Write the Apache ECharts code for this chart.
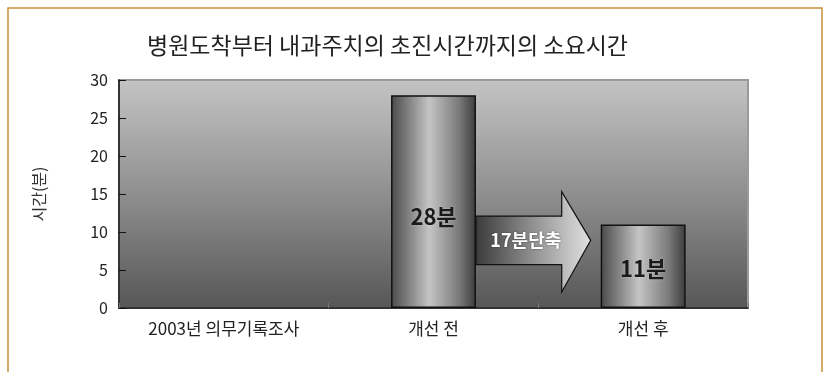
<!DOCTYPE html>
<html>
<head>
<meta charset="utf-8">
<script src="https://cdn.jsdelivr.net/npm/echarts@6/dist/echarts.min.js"></script>
<style>
  html, body { margin: 0; padding: 0; background: #ffffff; }
  #chart { width: 831px; height: 372px; }
</style>
</head>
<body>
<div id="chart"></div>
<script>
// Categories along the x axis and minutes for each stage
const categories = ['2003년 의무기록조사', '개선 전', '개선 후'];
const minutes = [null, 28, 11];
const yTicks = { min: 0, max: 30, interval: 5 };
const titleText = '병원도착부터 내과주치의 초진시간까지의 소요시간';
const yAxisName = '시간(분)';

// Reduction arrow between the two stages: [from, to, bodyLow, bodyHigh, headLow, headHigh]
const arrowSpan = [[1, 2, 5.7, 12.1, 2.1, 15.3]];
const reduction = minutes[1] - minutes[2];

const KR = '"Noto Sans CJK KR", "Noto Sans", sans-serif';
const chart = echarts.init(document.getElementById('chart'));

const barFill = new echarts.graphic.LinearGradient(0, 0, 1, 0, [
  { offset: 0, color: '#4a4a4a' },
  { offset: 0.12, color: '#6a6a6a' },
  { offset: 0.45, color: '#c4c4c4' },
  { offset: 0.8, color: '#7a7a7a' },
  { offset: 1, color: '#3c3c3c' }
]);

chart.setOption({
  animation: false,
  backgroundColor: '#ffffff',
  title: {
    text: titleText,
    left: 142,
    top: 29,
    textStyle: { fontFamily: KR, fontSize: 23, fontWeight: 'normal', color: '#222' }
  },
  graphic: [{
    type: 'rect',
    shape: { x: 8, y: 8, width: 814, height: 380 },
    style: { fill: 'none', stroke: '#c8903c', lineWidth: 1.5 },
    silent: true
  }],
  grid: {
    left: 119, right: 83, top: 80, bottom: 64,
    show: true,
    borderColor: '#9a9a9a',
    borderWidth: 2,
    backgroundColor: new echarts.graphic.LinearGradient(0, 0, 0, 1, [
      { offset: 0, color: '#c4c4c4' },
      { offset: 0.5, color: '#8f8f8f' },
      { offset: 1, color: '#565656' }
    ])
  },
  xAxis: {
    type: 'category',
    data: categories,
    axisLine: { show: true, lineStyle: { color: '#111', width: 1.5 } },
    axisTick: { show: true, inside: true, length: 5, lineStyle: { color: '#777' } },
    axisLabel: { fontFamily: KR, fontSize: 17, color: '#222', margin: 12 }
  },
  yAxis: {
    type: 'value',
    min: yTicks.min, max: yTicks.max, interval: yTicks.interval,
    name: yAxisName,
    nameLocation: 'middle',
    nameRotate: 90,
    nameGap: 72,
    nameTextStyle: { fontFamily: KR, fontSize: 16, color: '#333' },
    axisLine: { show: true, lineStyle: { color: '#111', width: 1.5 } },
    axisTick: { show: true, inside: true, length: 7, lineStyle: { color: '#111' } },
    axisLabel: { fontFamily: KR, fontSize: 16, color: '#222', margin: 11 },
    splitLine: { show: false }
  },
  series: [
    {
      type: 'bar',
      barWidth: '40.5%',
      data: minutes.map((v, i) => ({
        value: v,
        label: { offset: i === 1 ? [0, 15] : [0, 2] }
      })),
      itemStyle: { color: barFill, borderColor: '#111', borderWidth: 1.5 },
      label: {
        show: true,
        position: 'inside',
        formatter: p => p.value + '분',
        fontFamily: KR,
        fontSize: 22,
        fontWeight: 'bold',
        color: '#1a1a1a',
        textShadowColor: 'rgba(255,255,255,0.35)',
        textShadowBlur: 2
      },
      z: 2
    },
    {
      type: 'custom',
      data: arrowSpan,
      encode: { x: [0, 1], y: [2, 3, 4, 5] },
      z: 3,
      renderItem: function (params, api) {
        const band = api.size([1, 0])[0];
        const half = band * 0.405 / 2;
        const xStart = api.coord([api.value(0), 0])[0] + half;
        const xTip = api.coord([api.value(1), 0])[0] - half - 10;
        const xBase = xTip - 29;
        const yBodyLow = api.coord([0, api.value(2)])[1];
        const yBodyHigh = api.coord([0, api.value(3)])[1];
        const yHeadLow = api.coord([0, api.value(4)])[1];
        const yHeadHigh = api.coord([0, api.value(5)])[1];
        const yMid = (yBodyLow + yBodyHigh) / 2;
        return {
          type: 'group',
          children: [
            {
              type: 'polygon',
              shape: {
                points: [
                  [xStart, yBodyHigh], [xBase, yBodyHigh], [xBase, yHeadHigh],
                  [xTip, yMid], [xBase, yHeadLow], [xBase, yBodyLow], [xStart, yBodyLow]
                ]
              },
              style: {
                fill: new echarts.graphic.LinearGradient(0, 0, 1, 0, [
                  { offset: 0, color: '#3a3a3a' },
                  { offset: 0.55, color: '#9a9a9a' },
                  { offset: 1, color: '#e2e2e2' }
                ]),
                stroke: '#111',
                lineWidth: 1.2
              }
            },
            {
              type: 'text',
              x: (xStart + xBase) / 2 + 7,
              y: yMid,
              style: {
                text: reduction + '분단축',
                fontFamily: KR,
                fontSize: 18,
                fontWeight: 'bold',
                fill: '#ffffff',
                align: 'center',
                verticalAlign: 'middle',
                textShadowColor: 'rgba(0,0,0,0.5)',
                textShadowBlur: 2
              }
            }
          ]
        };
      }
    }
  ]
});
</script>
</body>
</html>
